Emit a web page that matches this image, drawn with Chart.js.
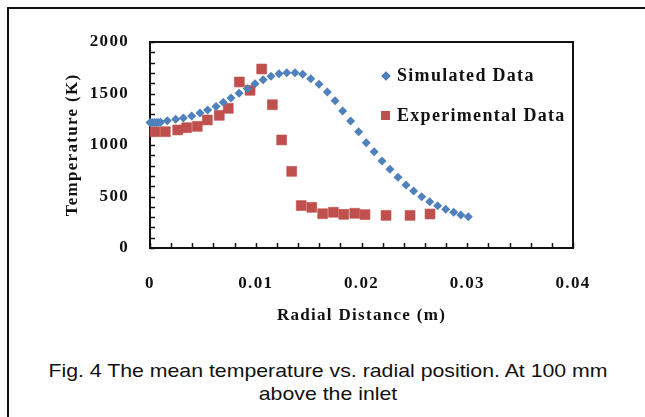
<!DOCTYPE html>
<html>
<head>
<meta charset="utf-8">
<script src="https://cdn.jsdelivr.net/npm/chart.js@4"></script>
<style>
  body { margin: 0; background: #fff; }
  #wrap { position: relative; width: 645px; height: 417px; overflow: hidden; }
  #frame { position: absolute; left: 7px; top: 7px; width: 700px; height: 500px;
           border-left: 2px solid #111; border-top: 2px solid #111; }
  #chart { position: absolute; left: 0; top: 0; }
  #caption { position: absolute; left: 0; top: 359px; width: 656px; text-align: center;
             font-family: "Liberation Sans", Arial, sans-serif; font-size: 19px;
             line-height: 23px; color: #111; transform: scaleX(1.12); transform-origin: 328px 0; }
</style>
</head>
<body>
<div id="wrap">
  <div id="frame"></div>
  <canvas id="chart" width="645" height="340"></canvas>
  <div id="caption">Fig. 4 The mean temperature vs. radial position. At 100 mm<br>above the inlet</div>
</div>
<script>
// radial distance (m) and temperature (K)
simX = [0, 0.0002, 0.0004, 0.0006, 0.0008, 0.001, 0.00164, 0.00243, 0.00315, 0.00394,
        0.00473, 0.00545, 0.00624, 0.00693, 0.00766, 0.00842, 0.0092, 0.00993, 0.0107,
        0.01144, 0.0122, 0.01293, 0.01371, 0.01444, 0.0152, 0.01598, 0.01677, 0.0175,
        0.01822, 0.01897, 0.01973, 0.02045, 0.0212, 0.02194, 0.02269, 0.02345, 0.02421,
        0.02493, 0.02569, 0.02645, 0.0272, 0.02796, 0.02872, 0.0294, 0.0301]
simT = [1218, 1218, 1218, 1219, 1219, 1220, 1236, 1249, 1262, 1282,
        1311, 1340, 1375, 1414, 1456, 1502, 1547, 1595, 1634,
        1667, 1692, 1702, 1702, 1686, 1644, 1589, 1515, 1430,
        1330, 1233, 1129, 1022, 935, 845, 764, 686, 612,
        553, 498, 450, 411, 376, 347, 320, 304]

expX = [0.00047, 0.00145, 0.00262, 0.00347, 0.00447, 0.00542, 0.00655, 0.0074, 0.00845,
        0.00946, 0.01056, 0.01157, 0.01245, 0.0134, 0.0143, 0.0153, 0.01633, 0.01734,
        0.01832, 0.01936, 0.02033, 0.02232, 0.02459, 0.02648]
expT = [1129, 1129, 1146, 1168, 1181, 1243, 1288, 1356, 1612,
        1531, 1738, 1391, 1049, 744, 412, 395, 333, 347,
        327, 337, 324, 317, 317, 330]

xTicks = [0, 0.01, 0.02, 0.03, 0.04]
yTicks = [0, 500, 1000, 1500, 2000]

seriesNames = ['Simulated Data', 'Experimental Data']
blue = '#4F81BD'
red = '#C0504D'

serif = '"Liberation Serif", "Times New Roman", serif'

// box, inward ticks and the legend inside the plot
boxPlugin = {
    id: 'box',
    beforeDraw(chart) {
        // the original font runs wider than Times
        chart.ctx.letterSpacing = '1.3px'
    },
    beforeDatasetsDraw(chart) {
        const {ctx, chartArea: a, scales: {x, y}} = chart
        ctx.save()
        ctx.strokeStyle = '#111'
        ctx.lineWidth = 1.5
        ctx.beginPath()
        for (let v = 0; v <= 2000; v += 100) {
            const py = Math.round(y.getPixelForValue(v)) + 0.5
            ctx.moveTo(a.left, py); ctx.lineTo(a.left + 5, py)
        }
        for (let i = 0; i <= 20; i++) {
            const px = Math.round(x.getPixelForValue(i * 0.002)) + 0.5
            ctx.moveTo(px, a.bottom); ctx.lineTo(px, a.bottom - 5)
        }
        ctx.stroke()
        ctx.lineWidth = 2
        ctx.strokeRect(a.left, a.top, a.right - a.left, a.bottom - a.top)
        ctx.restore()
    },
    afterDraw(chart) {
        const ctx = chart.ctx
        ctx.save()
        ctx.font = 'bold 18px ' + serif
        ctx.fillStyle = '#111'
        ctx.textBaseline = 'middle'
        // diamond
        Chart.helpers.drawPoint(ctx, {pointStyle: 'rectRot', radius: 4.5, borderWidth: 0}, 386, 76)
        ctx.fillStyle = blue
        ctx.fill()
        ctx.fillStyle = '#111'
        ctx.fillText(seriesNames[0], 397, 76)
        ctx.fillStyle = red
        ctx.fillRect(381, 111, 9, 9)
        ctx.fillStyle = '#111'
        ctx.fillText(seriesNames[1], 397, 116)
        ctx.restore()
    }
}

new Chart(document.getElementById('chart'), {
    type: 'scatter',
    data: {
        datasets: [
            {
                label: seriesNames[0],
                data: simX.map((v, i) => ({x: v, y: simT[i]})),
                pointStyle: 'rectRot',
                pointRadius: 4.5,
                backgroundColor: blue,
                borderColor: blue,
                borderWidth: 0,
                clip: false
            },
            {
                label: seriesNames[1],
                data: expX.map((v, i) => ({x: v, y: expT[i]})),
                pointStyle: 'rect',
                pointRadius: 7,
                backgroundColor: red,
                borderColor: 'rgba(192, 80, 77, .6)',
                borderWidth: 1,
                clip: false
            }
        ]
    },
    options: {
        responsive: false,
        animation: false,
        layout: { padding: { top: 42, right: 72, left: 0, bottom: 0 } },
        plugins: {
            legend: { display: false },
            tooltip: { enabled: false }
        },
        scales: {
            x: {
                type: 'linear',
                min: 0, max: 0.04,
                afterFit: s => { s.height = 92 },
                afterBuildTicks: s => { s.ticks = xTicks.map(v => ({value: v})) },
                grid: { display: false, drawTicks: false },
                border: { display: false },
                ticks: {
                    padding: 25,
                    color: '#111',
                    font: { family: serif, size: 17, weight: 'bold' },
                    callback: v => String(+v.toFixed(2))
                },
                title: {
                    display: true,
                    text: 'Radial Distance (m)',
                    color: '#111',
                    font: { family: serif, size: 17, weight: 'bold' },
                    padding: { bottom: 14 }
                }
            },
            y: {
                type: 'linear',
                min: 0, max: 2000,
                afterFit: s => { s.width = 150 },
                afterBuildTicks: s => { s.ticks = yTicks.map(v => ({value: v})) },
                grid: { display: false, drawTicks: false },
                border: { display: false },
                ticks: {
                    padding: 21,
                    color: '#111',
                    font: { family: serif, size: 17, weight: 'bold' },
                    callback: v => String(v)
                },
                title: {
                    display: true,
                    text: 'Temperature (K)',
                    color: '#111',
                    font: { family: serif, size: 17, weight: 'bold' },
                    padding: { top: 62 }
                }
            }
        }
    },
    plugins: [boxPlugin]
})
</script>
</body>
</html>
